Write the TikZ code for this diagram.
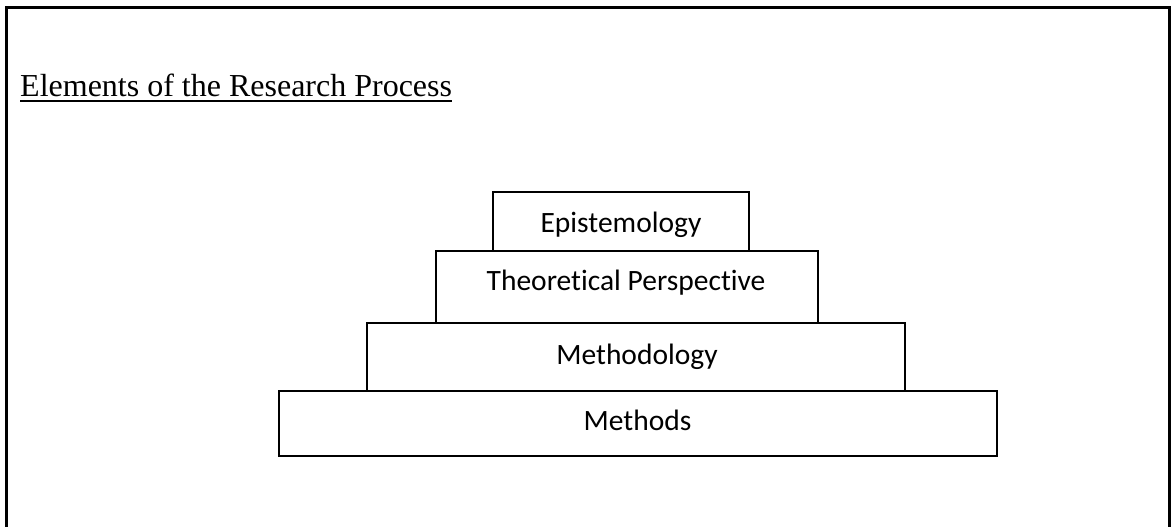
\documentclass[tikz,border=0pt]{standalone}
\usepackage{fontspec}
\setmainfont{Liberation Serif}
\newfontfamily\boxfont[Ligatures=NoCommon]{Carlito}
\begin{document}
\begin{tikzpicture}[x=1pt,y=-1pt,
  layer/.style={draw=black,line width=2pt,fill=white},
  lbl/.style={font=\boxfont\fontsize{29.5}{34}\selectfont,anchor=base,inner sep=0pt}]
\useasboundingbox (0,0) rectangle (1171,527);
\draw[line width=3pt] (6,560) -- (6,8) -- (1169,8) -- (1169,560);
\node[anchor=base west,inner sep=0pt,font=\fontsize{32}{38}\selectfont] (title) at (20,97) {Elements of the Research Process};
\draw[line width=2pt] ([yshift=-4pt]title.base west) -- ([yshift=-4pt]title.base east);
\draw[layer] (279,391) rectangle (997,456);
\draw[layer] (367,323) rectangle (905,391);
\draw[layer] (436,251) rectangle (818,323);
\draw[layer] (493,192) rectangle (749,251);
\node[lbl] (epi) at (621,232) {Epistemology};
\node[lbl] (theo) at (626,290) {Theoretical Perspective};
\node[lbl] (mgy) at (637,364) {Methodology};
\node[lbl] (mth) at (637.5,430) {Methods};
\end{tikzpicture}
\end{document}
